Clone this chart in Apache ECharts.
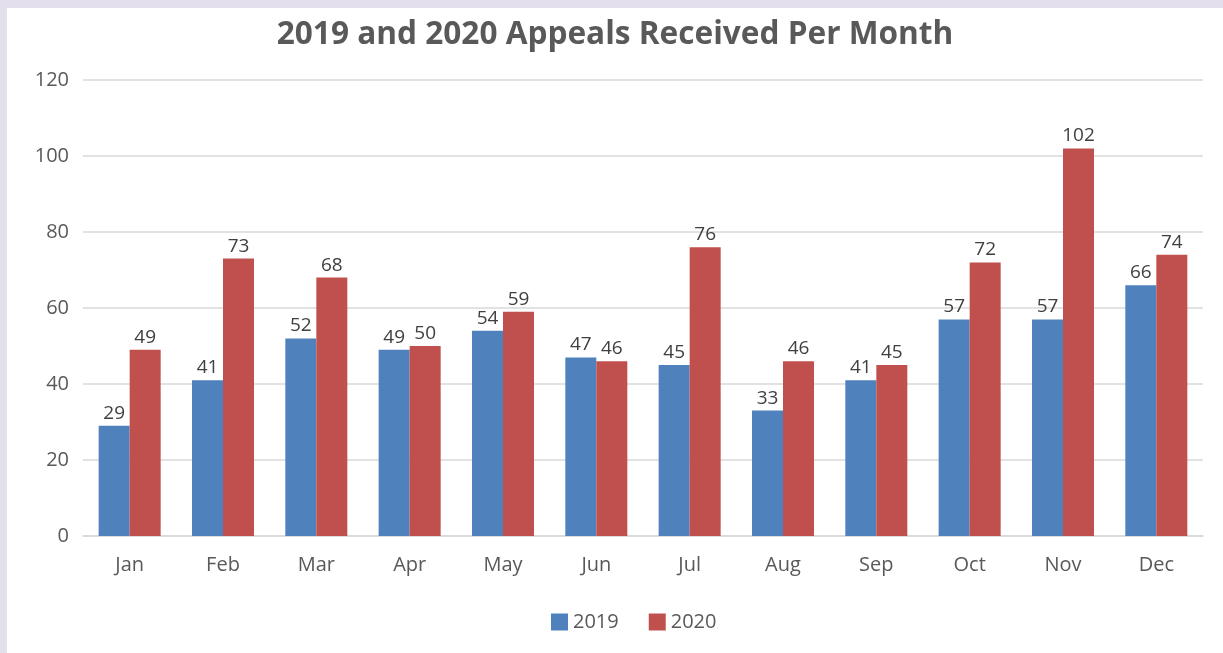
<!DOCTYPE html>
<html>
<head>
<meta charset="utf-8">
<script src="https://cdn.jsdelivr.net/npm/echarts@6/dist/echarts.min.js"></script>
<style>
  html, body { margin: 0; padding: 0; background: #e4dfec; }
  #main { position: absolute; left: 7px; top: 8px; width: 1216px; height: 645px; background: #fff; }
</style>
</head>
<body>
<div id="main"></div>
<script>
// 月份 + 两年数据
const months = ['Jan', 'Feb', 'Mar', 'Apr', 'May', 'Jun', 'Jul', 'Aug', 'Sep', 'Oct', 'Nov', 'Dec']
const data2019 = [29, 41, 52, 49, 54, 47, 45, 33, 41, 57, 57, 66]
const data2020 = [49, 73, 68, 50, 59, 46, 76, 46, 45, 72, 102, 74]
const yTicks = [0, 20, 40, 60, 80, 100, 120]

const font = '"Open Sans", "Noto Sans", sans-serif'

const myChart = echarts.init(document.getElementById('main'))
const labelStyle = {
  show: true,
  position: 'top',
  distance: 3,
  color: '#404040',
  fontSize: 19,
  fontFamily: font
}
const option = {
  animation: false,
  title: {
    text: '2019 and 2020 Appeals Received Per Month',
    left: 'center',
    top: 6,
    textStyle: {
      fontSize: 31.6,
      fontWeight: 'bold',
      color: '#595959',
      fontFamily: font
    }
  },
  grid: {
    left: 76,
    right: 20,
    top: 72,
    bottom: 117
  },
  legend: {
    bottom: 16,
    left: 539,
    icon: 'rect',
    itemWidth: 17,
    itemHeight: 17,
    itemGap: 30,
    textStyle: {
      fontSize: 20,
      color: '#595959',
      fontFamily: font
    },
    data: ['2019', '2020']
  },
  xAxis: {
    type: 'category',
    data: months,
    axisTick: { show: false },
    axisLine: { lineStyle: { color: '#d9d9d9', width: 1.5 } },
    axisLabel: { color: '#595959', fontSize: 20, margin: 19, fontFamily: font }
  },
  yAxis: {
    type: 'value',
    min: yTicks[0],
    max: yTicks[yTicks.length - 1],
    interval: 20,
    axisLine: { show: false },
    axisTick: { show: false },
    splitLine: { lineStyle: { color: '#d9d9d9', width: 1.5 } },
    axisLabel: { color: '#595959', fontSize: 20, margin: 14, fontFamily: font }
  },
  series: [
    {
      name: '2019',
      type: 'bar',
      data: data2019,
      barWidth: 31,
      barGap: 0,
      itemStyle: { color: '#4f81bd' },
      label: labelStyle
    },
    {
      name: '2020',
      type: 'bar',
      data: data2020,
      barWidth: 31,
      barGap: 0,
      itemStyle: { color: '#c0504d' },
      label: labelStyle
    }
  ]
}
myChart.setOption(option)
</script>
</body>
</html>
